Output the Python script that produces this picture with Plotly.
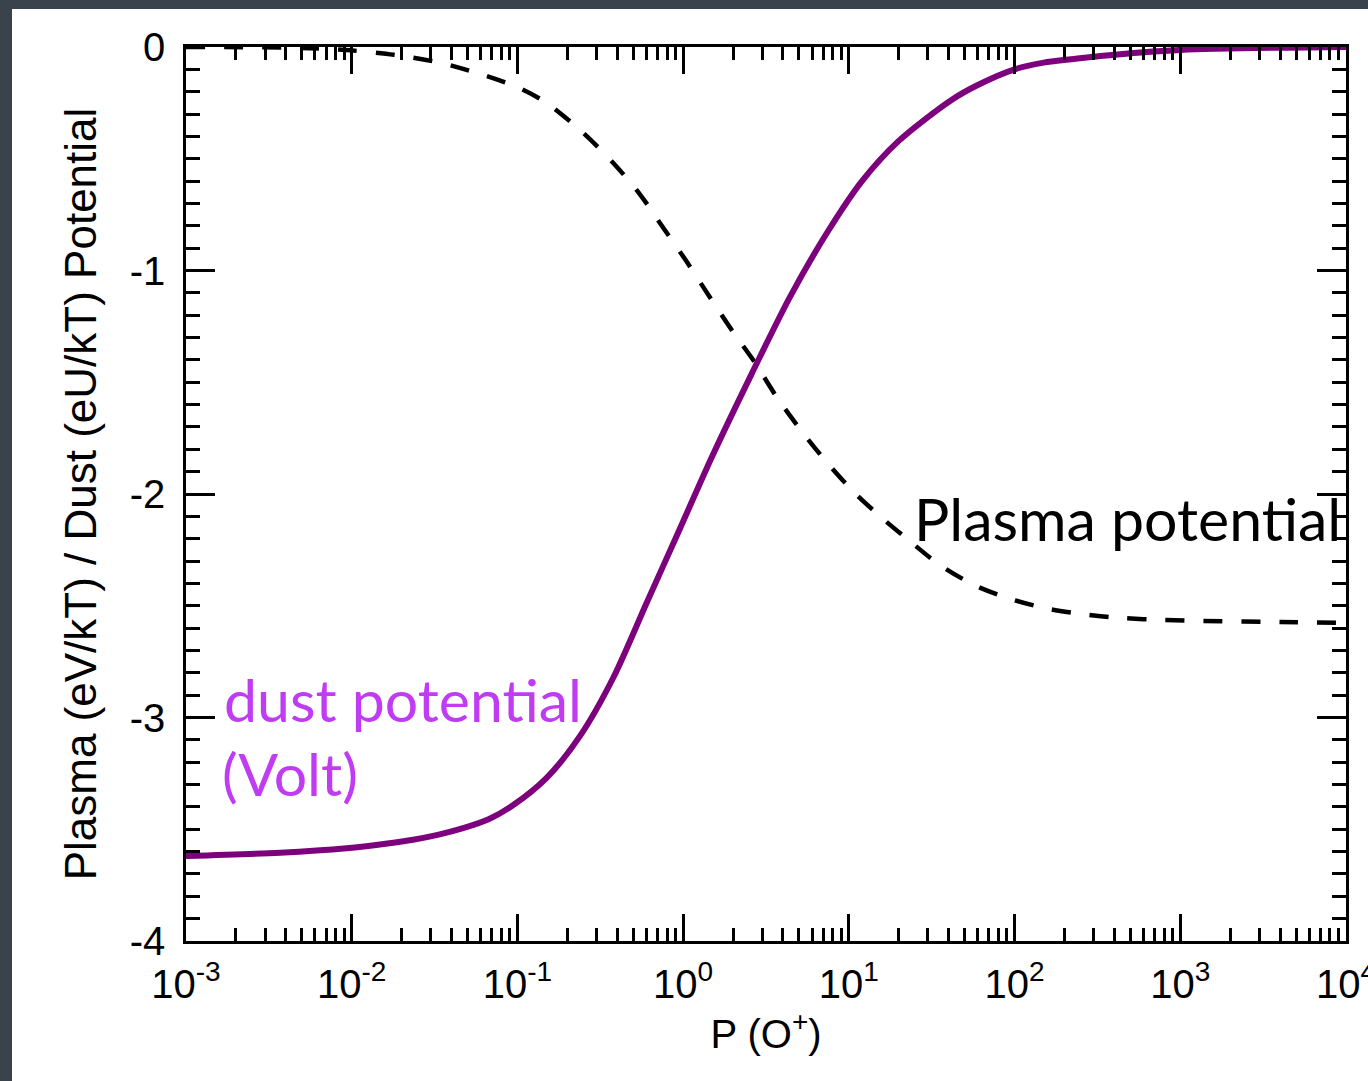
import plotly.graph_objects as go

# Dust potential (purple solid)
dust_P = [1e-3, 3.7e-3, 9.3e-3, 0.016, 0.023, 0.033, 0.047, 0.067, 0.093, 0.15, 0.24, 0.38,
          0.60, 0.95, 1.5, 2.6, 4.4, 7.4, 12, 20, 41, 60, 100, 150, 220, 330, 1000, 10000]
dust_U = [-3.62, -3.605, -3.585, -3.565, -3.548, -3.525, -3.495, -3.455, -3.395, -3.27,
          -3.08, -2.82, -2.49, -2.16, -1.83, -1.46, -1.12, -0.83, -0.60, -0.42, -0.24,
          -0.17, -0.10, -0.07, -0.055, -0.04, -0.013, 0.0]

# Plasma potential (black dashed)
plasma_P = [1e-3, 4.9e-3, 9.8e-3, 0.018, 0.034, 0.059, 0.10, 0.15, 0.25, 0.38, 0.55,
            0.76, 1.05, 1.45, 2.0, 2.7, 3.7, 5.2, 7.4, 11, 16.6, 22.4, 35, 58, 95,
            162, 275, 447, 794, 1380, 4000, 10000]
plasma_V = [0.0, -0.004, -0.015, -0.035, -0.07, -0.12, -0.18, -0.25, -0.385, -0.52, -0.66,
            -0.81, -0.96, -1.12, -1.275, -1.41, -1.57, -1.72, -1.86, -2.0, -2.12, -2.2,
            -2.315, -2.41, -2.47, -2.515, -2.54, -2.555, -2.564, -2.568, -2.573, -2.577]

x_tick_vals = [1e-3, 1e-2, 1e-1, 1e0, 1e1, 1e2, 1e3, 1e4]
x_tick_text = ["10<sup>-3</sup>", "10<sup>-2</sup>", "10<sup>-1</sup>", "10<sup>0</sup>",
               "10<sup>1</sup>", "10<sup>2</sup>", "10<sup>3</sup>", "10<sup>4</sup>"]
y_tick_vals = [0, -1, -2, -3, -4]
y_tick_text = ["0", "-1", "-2", "-3", "-4"]

x_minor_vals = [m * 10.0 ** e for e in range(-3, 4) for m in range(2, 10)]

fig = go.Figure()
fig.add_trace(go.Scatter(x=plasma_P, y=plasma_V, mode="lines",
                         line=dict(color="black", width=4.5, dash="19px,19px", shape="spline",
                                   smoothing=0.8),
                         showlegend=False))
fig.add_trace(go.Scatter(x=dust_P, y=dust_U, mode="lines",
                         line=dict(color="#7d007d", width=6, shape="spline", smoothing=0.8),
                         showlegend=False))

W, H = 1368, 1081
L, R, T, B = 186, 22, 47, 140
pw, ph = W - L - R, H - T - B


def px(xp):
    return (xp - L) / pw


def py(yp):
    return (H - B - yp) / ph


# white slide panel behind the chart
fig.add_shape(type="rect", xref="paper", yref="paper", layer="below",
              x0=px(12), x1=px(W + 10), y0=py(H + 10), y1=py(9),
              fillcolor="white", line=dict(width=0))

axis_font = dict(family="Liberation Sans, Arial, sans-serif", size=40, color="black")
title_font = dict(family="Liberation Sans, Arial, sans-serif", size=44, color="black")

fig.update_xaxes(type="log", range=[-3, 4.0001], tickmode="array", tickvals=x_tick_vals,
                 ticktext=x_tick_text, ticks="inside", ticklen=27, tickwidth=2.5,
                 tickcolor="black", mirror="allticks", showline=True, linecolor="black",
                 linewidth=2.5, showgrid=False, zeroline=False, tickfont=axis_font,
                 ticklabelstandoff=6, ticklabeloverflow="allow", automargin=False,
                 minor=dict(tickmode="array", tickvals=x_minor_vals, ticks="inside",
                            ticklen=13, tickwidth=2.5, tickcolor="black", showgrid=False),
                 title=dict(text="P (O<sup>+</sup>)", font=axis_font, standoff=14))
fig.update_yaxes(range=[-4, 0], tickmode="array", tickvals=y_tick_vals,
                 ticktext=y_tick_text, ticks="inside", ticklen=29, tickwidth=2.5,
                 tickcolor="black", mirror="allticks", showline=True, linecolor="black",
                 linewidth=2.5, showgrid=False, zeroline=False, tickfont=axis_font,
                 ticklabelstandoff=10, automargin=False,
                 minor=dict(dtick=0.1, ticks="inside", ticklen=14, tickwidth=2.5,
                            tickcolor="black", showgrid=False),
                 title=dict(text="Plasma (eV/kT) / Dust (eU/kT) Potential",
                            font=title_font, standoff=20))

label_font = "Lato, Open Sans, sans-serif"
fig.add_annotation(xref="paper", yref="paper", x=px(222), y=py(700),
                   text="dust potential", showarrow=False, xanchor="left", yanchor="middle",
                   font=dict(family=label_font, size=59, color="#c03cf2"))
fig.add_annotation(xref="paper", yref="paper", x=px(220), y=py(773),
                   text="(Volt)", showarrow=False, xanchor="left", yanchor="middle",
                   font=dict(family=label_font, size=59, color="#c03cf2"))
fig.add_annotation(xref="paper", yref="paper", x=px(912), y=py(518),
                   text="Plasma potential", showarrow=False, xanchor="left", yanchor="middle",
                   font=dict(family=label_font, size=59, color="black"))

fig.update_layout(width=W, height=H, margin=dict(l=L, r=R, t=T, b=B, pad=0,
                                                 autoexpand=False),
                  paper_bgcolor="#3a424c", plot_bgcolor="white", showlegend=False)

fig.write_html("out.html")
